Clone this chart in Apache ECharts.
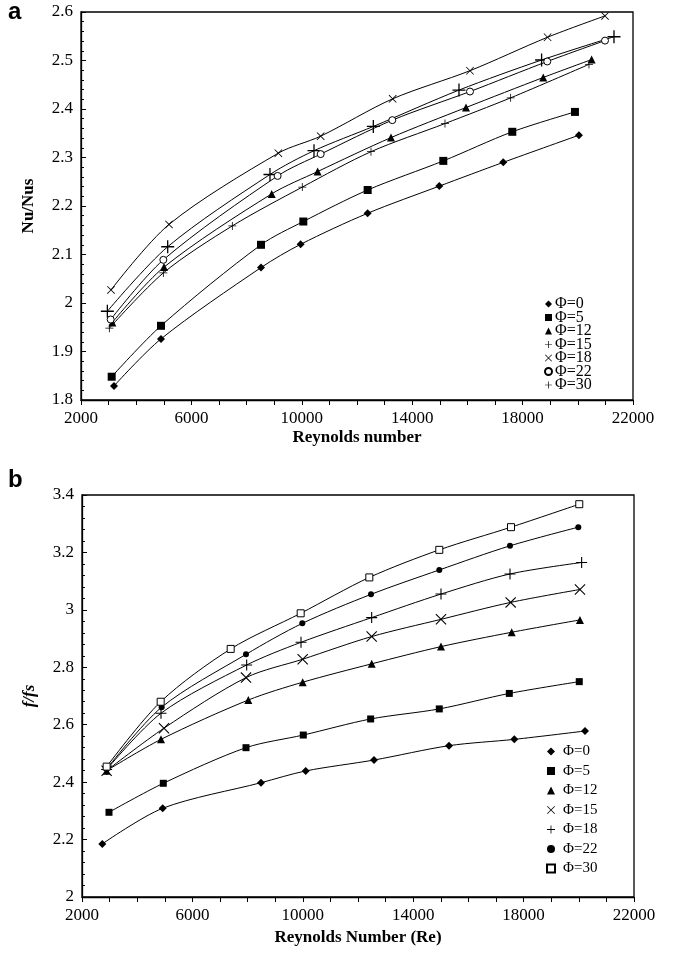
<!DOCTYPE html>
<html><head><meta charset="utf-8">
<script src="https://cdn.jsdelivr.net/npm/echarts@6/dist/echarts.min.js"></script>
<style>html,body{margin:0;padding:0;background:#fff}#c{width:675px;height:955px}</style>
</head><body><div id="c"></div>
<script>
// ---- Chart a: Nu/Nus vs Reynolds number ----
const namesA = ['Φ=0','Φ=5','Φ=12','Φ=15','Φ=18','Φ=22','Φ=30'];
const a_phi0  = [[3196,1.829],[4898,1.926],[8521,2.073],[9958,2.121],[12386,2.185],[14982,2.241],[17300,2.290],[20042,2.346]];
const a_phi5  = [[3112,1.848],[4898,1.953],[8521,2.120],[10055,2.168],[12386,2.233],[15127,2.293],[17626,2.353],[19897,2.394]];
const a_phi12 = [[3135,1.960],[5007,2.074],[8908,2.225],[10573,2.271],[13231,2.341],[15949,2.403],[18749,2.465],[20502,2.502]];
const a_phi15 = [[2955,1.983],[5141,2.116],[8847,2.265],[10442,2.314],[12591,2.364],[15695,2.439],[18688,2.501],[21311,2.549]];
const a_phi18 = [[3087,2.027],[5188,2.162],[9150,2.309],[10684,2.344],[13292,2.421],[16094,2.479],[18905,2.548],[20985,2.592]];
const a_phi22 = [[3075,1.966],[4983,2.089],[9124,2.262],[10684,2.307],[13279,2.377],[16094,2.436],[18894,2.498],[20985,2.541]];
const a_phi30 = [[3027,1.948],[4983,2.062],[7483,2.159],[10018,2.239],[12507,2.312],[15188,2.370],[17567,2.423],[20405,2.492]];

// ---- Chart b: f/fs vs Reynolds Number (Re) ----
const namesB = ['Φ=0','Φ=5','Φ=12','Φ=15','Φ=18','Φ=22','Φ=30'];
const b_phi0  = [[2736,2.185],[4923,2.309],[8485,2.398],[10104,2.439],[12579,2.477],[15297,2.527],[17663,2.549],[20224,2.578]];
const b_phi5  = [[2978,2.295],[4946,2.396],[7942,2.520],[10018,2.564],[12458,2.620],[14945,2.655],[17482,2.709],[20017,2.750]];
const b_phi12 = [[2893,2.440],[4862,2.549],[8026,2.686],[9996,2.748],[12495,2.812],[15007,2.872],[17568,2.922],[20042,2.965]];
const b_phi15 = [[2893,2.440],[4971,2.588],[7942,2.764],[9996,2.828],[12495,2.907],[15007,2.967],[17531,3.026],[20042,3.071]];
const b_phi18 = [[2893,2.444],[4862,2.640],[7966,2.808],[9935,2.887],[12495,2.973],[15007,3.055],[17507,3.125],[20103,3.165]];
const b_phi22 = [[2893,2.446],[4886,2.661],[7942,2.845],[9982,2.953],[12471,3.054],[14945,3.139],[17507,3.223],[19982,3.288]];
const b_phi30 = [[2893,2.454],[4850,2.680],[7387,2.864],[9923,2.988],[12410,3.113],[14945,3.209],[17543,3.288],[20017,3.368]];

const xTitleA = 'Reynolds number', yTitleA = 'Nu/Nus';
const xTitleB = 'Reynolds Number (Re)', yTitleB = 'f/fs';

const PLUS = 'path://M9,0L11,0L11,9L20,9L20,11L11,11L11,20L9,20L9,11L0,11L0,9L9,9Z';
const CROSS = 'path://M0,1.4L1.4,0L10,8.6L18.6,0L20,1.4L11.4,10L20,18.6L18.6,20L10,11.4L1.4,20L0,18.6L8.6,10Z';
const FONT = 'Liberation Serif';

function mk(prefix, name, data, idx, symbol, size, fill) {
  return {
    type: 'line', name: prefix + name, xAxisIndex: idx, yAxisIndex: idx, data: data,
    symbol: symbol, symbolSize: size, smooth: 0.3, showSymbol: true,
    lineStyle: { color: '#000', width: 1 },
    itemStyle: { color: fill, borderColor: '#000', borderWidth: fill === '#fff' ? 1 : 0 },
    emphasis: { disabled: true }
  };
}
const symsA = [['diamond',8,'#000'],['rect',8,'#000'],['triangle',8,'#000'],[PLUS,13,'#000'],[CROSS,8,'#000'],['circle',7,'#fff'],[PLUS,8,'#000']];
const symsB = [['diamond',8,'#000'],['rect',7,'#000'],['triangle',8,'#000'],[CROSS,11,'#000'],[PLUS,11,'#000'],['circle',6,'#000'],['rect',7,'#fff']];
const dataA = [a_phi0,a_phi5,a_phi12,a_phi15,a_phi18,a_phi22,a_phi30];
const dataB = [b_phi0,b_phi5,b_phi12,b_phi15,b_phi18,b_phi22,b_phi30];

const series = [];
namesA.forEach((n,i)=>series.push(mk('a:', n, dataA[i], 0, symsA[i][0], symsA[i][1], symsA[i][2])));
namesB.forEach((n,i)=>series.push(mk('b:', n, dataB[i], 1, symsB[i][0], symsB[i][1], symsB[i][2])));

function xAx(idx, title, gap) {
  return {
    gridIndex: idx, type: 'value', min: 2000, max: 22000, interval: 4000,
    name: title, nameLocation: 'middle', nameGap: gap,
    nameTextStyle: { fontFamily: FONT, fontWeight: 'bold', fontSize: 17, color: '#000' },
    axisLine: { onZero: false, lineStyle: { color: '#000', width: 1.3 } },
    axisTick: { inside: false, length: 5, lineStyle: { color: '#000' } },
    minorTick: { show: true, splitNumber: 4, length: 5, lineStyle: { color: '#000' } },
    splitLine: { show: false },
    axisLabel: { fontFamily: FONT, fontSize: 17, color: '#000', margin: 10, formatter: v => String(v) }
  };
}
function yAx(idx, title, min, max, interval, italic, gap) {
  return {
    gridIndex: idx, type: 'value', min: min, max: max, interval: interval,
    name: title, nameLocation: 'middle', nameGap: gap, nameRotate: 90,
    nameTextStyle: { fontFamily: FONT, fontWeight: 'bold', fontStyle: italic ? 'italic' : 'normal', fontSize: 17, color: '#000' },
    axisLine: { onZero: false, lineStyle: { color: '#000', width: 1.3 } },
    axisTick: { inside: true, length: 5, lineStyle: { color: '#000' } },
    minorTick: { show: true, splitNumber: 5, length: 3, lineStyle: { color: '#000' } },
    splitLine: { show: false },
    axisLabel: { fontFamily: FONT, fontSize: 17, color: '#000', margin: 8 }
  };
}
function legendData(prefix, names, syms) {
  return names.map((n,i)=>({ name: prefix + n, icon: syms[i][0] }));
}

const option = {
  animation: false,
  backgroundColor: '#fff',
  grid: [
    { left: 81, top: 12, width: 552, height: 388, show: true, borderColor: '#000', borderWidth: 1.3, backgroundColor: 'transparent' },
    { left: 82, top: 495, width: 552, height: 402, show: true, borderColor: '#000', borderWidth: 1.3, backgroundColor: 'transparent' }
  ],
  xAxis: [ xAx(0, xTitleA, 29), xAx(1, xTitleB, 32) ],
  yAxis: [ yAx(0, yTitleA, 1.8, 2.6, 0.1, false, 44), yAx(1, yTitleB, 2, 3.4, 0.2, true, 44) ],
  legend: [
    { orient: 'vertical', left: 544, top: 296, itemWidth: 7, itemHeight: 7, itemGap: -2.5, padding: 0,
      selectedMode: false, data: legendData('a:', namesA, symsA),
      formatter: n => n.slice(2),
      textStyle: { fontFamily: FONT, fontSize: 16, color: '#000', padding: [0,0,0,-2] } },
    { orient: 'vertical', left: 546, top: 744, itemWidth: 8, itemHeight: 8, itemGap: 4.5, padding: 0,
      selectedMode: false, data: legendData('b:', namesB, symsB),
      formatter: n => n.slice(2),
      textStyle: { fontFamily: FONT, fontSize: 15, color: '#000', padding: [0,0,0,3] } }
  ],
  graphic: [
    { type: 'text', left: 8, top: 0, style: { text: 'a', font: 'bold 24px "Liberation Sans"', fill: '#000' } },
    { type: 'text', left: 8, top: 468, style: { text: 'b', font: 'bold 24px "Liberation Sans"', fill: '#000' } }
  ],
  series: series
};
const chart = echarts.init(document.getElementById('c'), null, { renderer: 'canvas' });
chart.setOption(option);
</script></body></html>
